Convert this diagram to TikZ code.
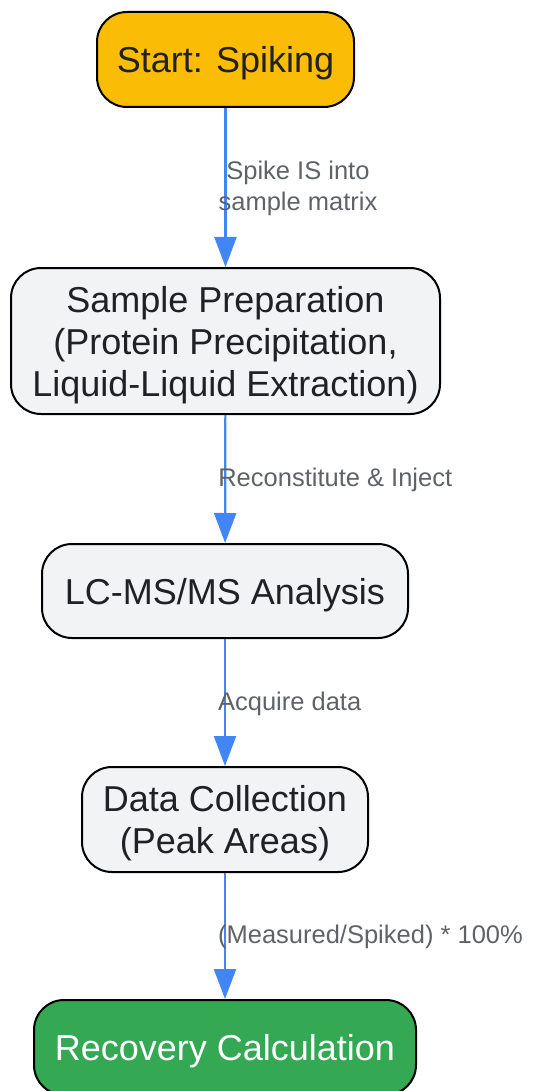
\documentclass[tikz,border=0pt]{standalone}
\usepackage{fontspec}
\setmainfont{Liberation Sans}
\usetikzlibrary{arrows.meta, positioning}
\definecolor{startorange}{HTML}{FBBC05}
\definecolor{stepgrey}{HTML}{F1F3F4}
\definecolor{endgreen}{HTML}{34A853}
\definecolor{flowblue}{HTML}{4285F4}
\definecolor{labelgrey}{HTML}{5F6368}
\definecolor{textdark}{HTML}{202124}

\begin{document}
\begin{tikzpicture}[x=1pt, y=-1pt, >={Triangle[length=30pt, width=22pt]},
  box/.style={draw=black, line width=2pt, rounded corners=30pt, align=center,
    font=\fontsize{36}{42}\selectfont, text=textdark, inner sep=0pt, text depth=-2pt},
  flow/.style={->, draw=flowblue, line width=2.2pt},
  lbl/.style={font=\fontsize{25.5}{31}\selectfont, text=labelgrey, align=center,
    midway, anchor=west, xshift=-8pt, yshift=-1pt, inner sep=0pt}]

\useasboundingbox (0,0) rectangle (540,1091);

% Process steps
\node[box, fill=startorange, minimum width=257pt, minimum height=95pt] (start) at (225.5,59.5) {Start: Spiking};
\node[box, fill=stepgrey, minimum width=429pt, minimum height=146pt] (prep) at (225.5,341) {Sample Preparation\\(Protein Precipitation,\\Liquid-Liquid Extraction)};
\node[box, fill=stepgrey, minimum width=366pt, minimum height=94pt] (lcms) at (225,591) {LC-MS/MS Analysis};
\node[box, fill=stepgrey, minimum width=286pt, minimum height=105pt] (data) at (225,819.5) {Data Collection\\(Peak Areas)};
\node[box, fill=endgreen, text=white, minimum width=382pt, minimum height=95pt] (recov) at (225,1047.5) {Recovery Calculation};

% Arrows between steps
\draw[flow] (start) -- (prep) node[lbl] {Spike IS into\\sample matrix};
\draw[flow] (prep) -- (lcms) node[lbl] {Reconstitute \& Inject};
\draw[flow] (lcms) -- (data) node[lbl] {Acquire data};
\draw[flow] (data) -- (recov) node[lbl] {(Measured/Spiked) * 100\%};

\end{tikzpicture}
\end{document}
